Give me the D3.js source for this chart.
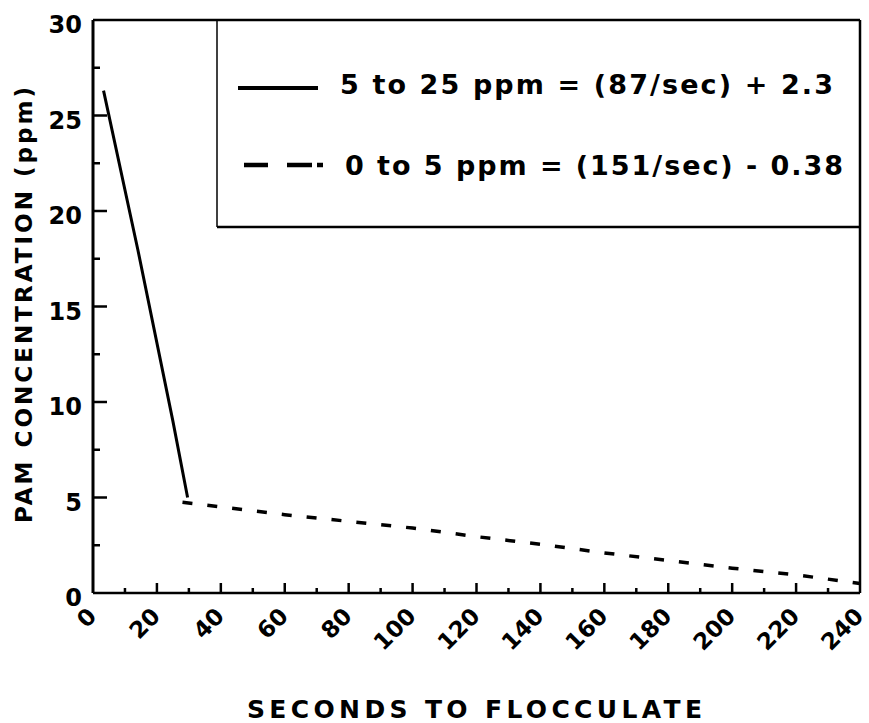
<!DOCTYPE html>
<html>
<head>
<meta charset="utf-8">
<script src="https://cdn.jsdelivr.net/npm/d3@7"></script>
<style>
  body { margin: 0; background: #fff; }
  svg { display: block; }
  text { font-family: "DejaVu Sans", "Liberation Sans", Arial, sans-serif; fill: #000; }
</style>
</head>
<body>
<div id="chart"></div>
<script>
// Données
const xTicks = [0, 20, 40, 60, 80, 100, 120, 140, 160, 180, 200, 220, 240];
const yTicks = [0, 5, 10, 15, 20, 25, 30];

// 5 to 25 ppm (trait plein)
const highRange = [
  [3.3, 26.3], [14, 18.0], [25, 9.0], [29.6, 5.0]
];
// 0 to 5 ppm (tirets)
const lowRange = [
  [28, 4.75], [60, 4.1], [100, 3.4], [120, 2.95], [140, 2.55],
  [160, 2.1], [180, 1.7], [200, 1.3], [220, 0.95], [240, 0.5]
];

const legendLabels = [
  '5 to 25 ppm = (87/sec) + 2.3',
  '0 to 5 ppm = (151/sec) - 0.38'
];

const width = 869, height = 723;
const margin = { top: 20, right: 9, bottom: 130, left: 93 };

const svg = d3.select('#chart').append('svg')
  .attr('width', width)
  .attr('height', height);

const x = d3.scaleLinear().domain([0, 240]).range([margin.left, width - margin.right]);
const y = d3.scaleLinear().domain([0, 30]).range([height - margin.bottom, margin.top]);

// Cadre : axe gauche, bas, droite et haut
const frame = svg.append('g').attr('stroke', '#000').attr('fill', 'none');
frame.append('line')
  .attr('x1', x(0)).attr('x2', x(0)).attr('y1', y(0)).attr('y2', y(30))
  .attr('stroke-width', 3);
frame.append('line')
  .attr('x1', x(0)).attr('x2', x(240)).attr('y1', y(0)).attr('y2', y(0))
  .attr('stroke-width', 2.5);
frame.append('line')
  .attr('x1', x(0)).attr('x2', x(240)).attr('y1', y(30)).attr('y2', y(30))
  .attr('stroke-width', 2.5);
frame.append('line')
  .attr('x1', x(240)).attr('x2', x(240)).attr('y1', y(30)).attr('y2', y(0))
  .attr('stroke-width', 2.5);

// Graduations Y (majeures + mineures)
const yMinor = d3.range(2.5, 30, 5);
svg.append('g').selectAll('line')
  .data(yTicks.slice(1, -1))
  .join('line')
  .attr('x1', x(0)).attr('x2', x(0) + 14)
  .attr('y1', d => y(d)).attr('y2', d => y(d))
  .attr('stroke', '#000').attr('stroke-width', 2.5);
svg.append('g').selectAll('line')
  .data(yMinor)
  .join('line')
  .attr('x1', x(0)).attr('x2', x(0) + 7)
  .attr('y1', d => y(d)).attr('y2', d => y(d))
  .attr('stroke', '#000').attr('stroke-width', 2.5);

svg.append('g').selectAll('text')
  .data(yTicks)
  .join('text')
  .attr('x', x(0) - 11)
  .attr('y', d => y(d) + 13)
  .attr('text-anchor', 'end')
  .attr('font-size', 24)
  .attr('font-weight', 'bold')
  .text(d => d);

// Graduations X
const xMinor = d3.range(10, 240, 20);
svg.append('g').selectAll('line')
  .data(xTicks.slice(1, -1))
  .join('line')
  .attr('x1', d => x(d)).attr('x2', d => x(d))
  .attr('y1', y(0)).attr('y2', y(0) - 10)
  .attr('stroke', '#000').attr('stroke-width', 2.5);
svg.append('g').selectAll('line')
  .data(xMinor)
  .join('line')
  .attr('x1', d => x(d)).attr('x2', d => x(d))
  .attr('y1', y(0)).attr('y2', y(0) - 5)
  .attr('stroke', '#000').attr('stroke-width', 2.5);

svg.append('g').selectAll('text')
  .data(xTicks)
  .join('text')
  .attr('transform', d => `translate(${x(d) - 1},${y(0) + 19}) rotate(-45)`)
  .attr('text-anchor', 'end')
  .attr('dy', '0.35em')
  .attr('font-size', 23)
  .attr('font-weight', 'bold')
  .text(d => d);

// Titres des axes
svg.append('text')
  .attr('transform', `translate(32,305) rotate(-90)`)
  .attr('text-anchor', 'middle')
  .attr('font-size', 23)
  .attr('font-weight', 'bold')
  .attr('textLength', 436)
  .attr('lengthAdjust', 'spacing')
  .text('PAM CONCENTRATION (ppm)');

svg.append('text')
  .attr('x', (247 + 702) / 2)
  .attr('y', 718)
  .attr('text-anchor', 'middle')
  .attr('font-size', 25)
  .attr('font-weight', 'bold')
  .attr('textLength', 455)
  .attr('lengthAdjust', 'spacing')
  .text('SECONDS TO FLOCCULATE');

// Courbes
const line = d3.line().x(d => x(d[0])).y(d => y(d[1]));

svg.append('path')
  .datum(highRange)
  .attr('d', line)
  .attr('fill', 'none')
  .attr('stroke', '#000')
  .attr('stroke-width', 3);

svg.append('path')
  .datum(lowRange)
  .attr('d', line)
  .attr('fill', 'none')
  .attr('stroke', '#000')
  .attr('stroke-width', 3.5)
  .attr('stroke-dasharray', '10,15');

// Légende
const legend = svg.append('g');
legend.append('line')
  .attr('x1', 217).attr('x2', 217).attr('y1', y(30)).attr('y2', 227)
  .attr('stroke', '#000').attr('stroke-width', 1.5);
legend.append('line')
  .attr('x1', 217).attr('x2', x(240)).attr('y1', 227).attr('y2', 227)
  .attr('stroke', '#000').attr('stroke-width', 2.5);

legend.append('line')
  .attr('x1', 238).attr('x2', 318).attr('y1', 88).attr('y2', 88)
  .attr('stroke', '#000').attr('stroke-width', 4);
legend.append('line')
  .attr('x1', 244).attr('x2', 323).attr('y1', 165).attr('y2', 165)
  .attr('stroke', '#000').attr('stroke-width', 4.5)
  .attr('stroke-dasharray', '24,19,25,5,6,100');

const legendPos = [
  { x: 340, y: 94, w: 493 },
  { x: 345, y: 175, w: 498 }
];
legend.selectAll('text')
  .data(legendLabels)
  .join('text')
  .attr('x', (d, i) => legendPos[i].x)
  .attr('y', (d, i) => legendPos[i].y)
  .attr('font-size', 27)
  .attr('font-weight', 'bold')
  .attr('textLength', (d, i) => legendPos[i].w)
  .attr('lengthAdjust', 'spacing')
  .text(d => d);
</script>
</body>
</html>
